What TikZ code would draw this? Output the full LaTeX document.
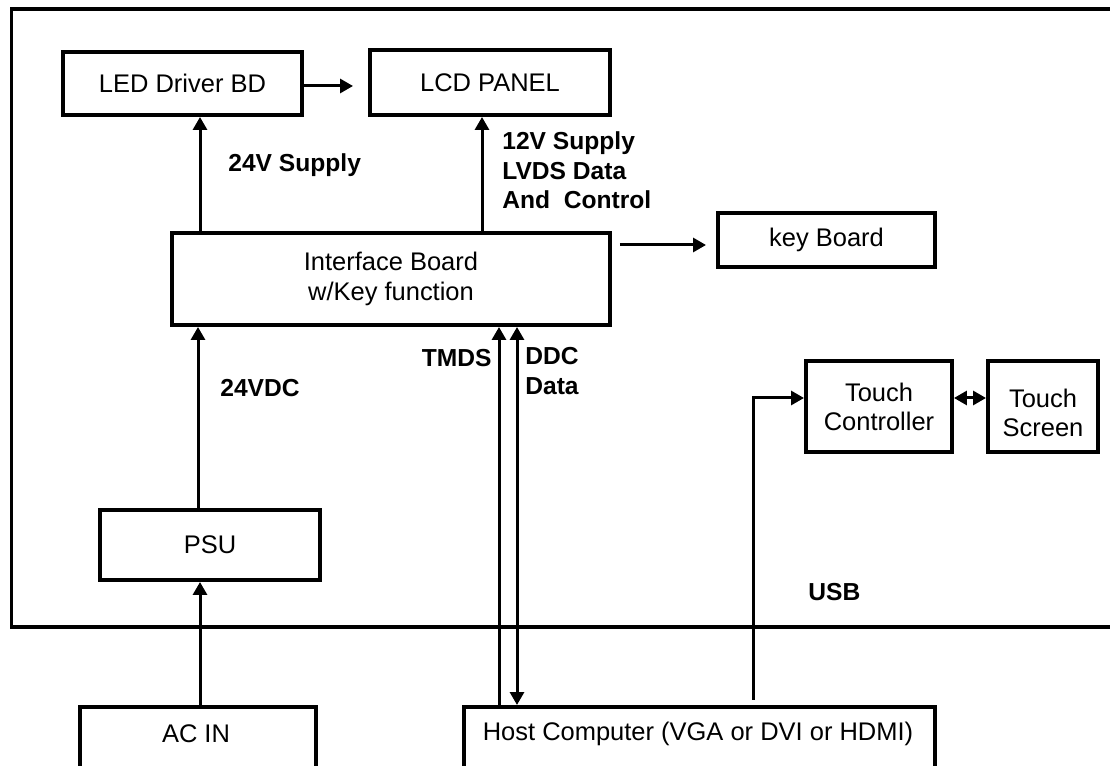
\documentclass[tikz,border=0pt]{standalone}
\usepackage{fontspec}
\setmainfont{Liberation Sans}
\usetikzlibrary{arrows.meta,calc}
\begin{document}
\begin{tikzpicture}[x=0.02cm,y=-0.02cm,
  box/.style={draw,line width=0.08cm,inner sep=0pt,align=center,
    font=\fontsize{14.5}{16.5}\selectfont},
  txt/.style={inner sep=0pt,align=center,font=\fontsize{14.5}{16.5}\selectfont},
  lbl/.style={inner sep=0pt,align=left,font=\fontsize{14}{17}\selectfont\bfseries},
  arr/.style={line width=0.06cm,-{Triangle[length=0.26cm,width=0.28cm]}},
  darr/.style={line width=0.06cm,{Triangle[length=0.26cm,width=0.28cm]}-{Triangle[length=0.26cm,width=0.28cm]}}]
\useasboundingbox (0,0) rectangle (1110,766);
\clip (0,0) rectangle (1110,766);
% outer frame
\draw[line width=0.08cm] (11.5,9) rectangle (1130,627);
% boxes
\node[box,minimum width=4.78cm,minimum height=1.26cm] (led) at (182.5,83.5) {LED Driver BD};
\node[box,minimum width=4.8cm,minimum height=1.3cm] (lcd) at (490,82.5) {LCD PANEL};
\node[box,minimum width=8.76cm,minimum height=1.84cm,font=\fontsize{14.5}{17.5}\selectfont] (iface) at (391,279) {Interface Board\\w/Key function};
\node[box,minimum width=4.34cm,minimum height=1.08cm] (key) at (826.5,240) {key Board};
\node[box,minimum width=2.92cm,minimum height=1.82cm] (tc) at (879,406.5) {Touch\\Controller};
\node[box,minimum width=2.2cm,minimum height=1.82cm] (ts) at (1043,406.5) {};
\node[txt] (tslbl) at (1043,413) {Touch\\Screen};
\node[box,minimum width=4.4cm,minimum height=1.4cm] (psu) at (210,545) {PSU};
\node[box,minimum width=4.72cm,minimum height=1.6cm,anchor=north west] (acin) at (78,705) {};
\node[txt] (acinlbl) at (196,734) {AC IN};
\node[box,minimum width=9.42cm,minimum height=1.6cm,anchor=north west] (host) at (462,705) {};
\node[txt] (hostlbl) at (698,734) {Host Computer (VGA or DVI or HDMI)};
% labels
\node[lbl,anchor=west] (l24) at (228,165) {24V Supply};
\node[lbl,anchor=north west] (l12) at (502,131) {12V Supply\\LVDS Data\\And\ \ Control};
\node[lbl,anchor=east] (ltmds) at (492,358) {TMDS};
\node[lbl,anchor=north west] (lddc) at (525,347) {DDC\\Data};
\node[lbl,anchor=west] (l24vdc) at (220,388) {24VDC};
\node[lbl,anchor=west] (lusb) at (808,592) {USB};
% connectors
\draw[arr,shorten >=0.3cm] (led.east |- 0,86) -- (lcd.west |- 0,86);
\draw[arr] (iface.north -| 200,0) -- (led.south -| 200,0);
\draw[arr] (iface.north -| 482,0) -- (lcd.south -| 482,0);
\draw[arr,shorten <=0.16cm,shorten >=0.2cm] (iface.east |- 0,245) -- (key.west |- 0,245);
\draw[arr] (psu.north -| 198,0) -- (iface.south -| 198,0);
\draw[arr] (acin.north -| 200,0) -- (psu.south -| 200,0);
\draw[arr] (host.north -| 499,0) -- (iface.south -| 499,0);
\draw[darr] (host.north -| 517,0) -- (iface.south -| 517,0);
\coordinate (ucorner) at (753,398);
\draw[arr,shorten <=0.1cm] (host.north -| ucorner) -- (ucorner) -- (tc.west |- ucorner);
\draw[darr] (tc.east |- ucorner) -- (ts.west |- ucorner);
\end{tikzpicture}
\end{document}
